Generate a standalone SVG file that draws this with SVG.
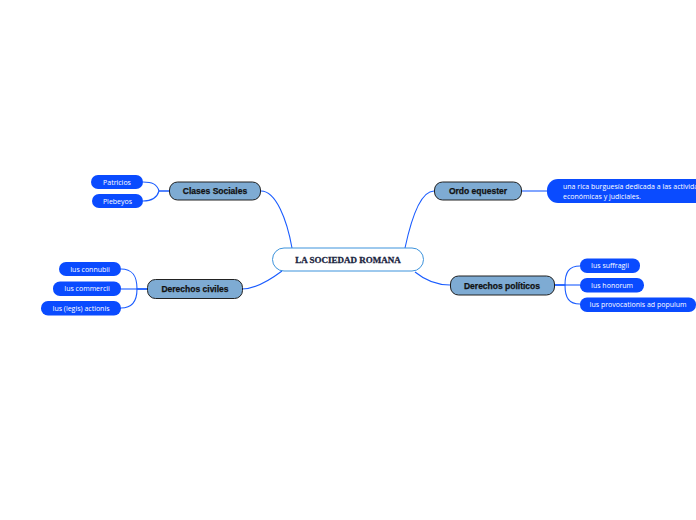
<svg xmlns="http://www.w3.org/2000/svg" width="696" height="520" viewBox="0 0 696 520">
<style>
.c{fill:none;stroke:#1a5cff;stroke-width:1.1}
.l1{fill:#7eabd3;stroke:#222;stroke-width:1}
.l1t{font-family:"Liberation Sans",Arial,sans-serif;font-weight:bold;font-size:8.5px;fill:#111;stroke:#111;stroke-width:0.25;text-anchor:middle}
.lf{fill:#0a4bff}
.lft{font-family:"Open Sans","Noto Sans",sans-serif;font-size:7px;fill:#fff;text-anchor:middle}
</style>
<rect width="696" height="520" fill="#fff"/>
<g id="connectors">
<path class="c" d="M261,191 C276,191 287,220 292,248"/>
<path class="c" d="M282,271 C270,280 256,289 242,289"/>
<path class="c" d="M405,248 C411,220 420,191 434,191"/>
<path class="c" d="M415,272 C426,281 438,285 450,285"/>
<path class="c" d="M169,191 H159 C157,184 152,182 143,182"/>
<path class="c" d="M169,191 H159 C157,198 152,201 143,201"/>
<path class="c" d="M147,289 H121"/>
<path class="c" d="M147,289 H137 C137,275 132,269 121,269"/>
<path class="c" d="M147,289 H137 C137,302 132,308 121,308"/>
<path class="c" d="M521,191 H547"/>
<path class="c" d="M554,285 H580"/>
<path class="c" d="M554,285 H565 C565,272 569,266 580,266"/>
<path class="c" d="M554,285 H565 C565,298 569,304 580,304"/>
</g>
<g id="central">
<rect x="272.5" y="248" width="151" height="23" rx="11.5" fill="#fff" stroke="#3d93dc" stroke-width="1"/>
<text x="348" y="263" font-family="Liberation Serif,serif" font-weight="bold" font-size="9" fill="#1a2440" stroke="#1a2440" stroke-width="0.3" text-anchor="middle">LA SOCIEDAD ROMANA</text>
</g>
<g id="clases">
<rect class="l1" x="169.5" y="182" width="91" height="18" rx="8"/>
<text class="l1t" x="215" y="194">Clases Sociales</text>
</g>
<g id="patricios">
<rect class="lf" x="91" y="175" width="52" height="14" rx="7"/>
<text class="lft" x="117" y="184.5">Patricios</text>
</g>
<g id="plebeyos">
<rect class="lf" x="92" y="194" width="51" height="14" rx="7"/>
<text class="lft" x="117.5" y="203.5">Plebeyos</text>
</g>
<g id="civiles">
<rect class="l1" x="147.5" y="279.5" width="95" height="19" rx="8"/>
<text class="l1t" x="195" y="292">Derechos civiles</text>
</g>
<g id="connubii">
<rect class="lf" x="59" y="262" width="62" height="14" rx="7"/>
<text class="lft" x="90" y="271.5">Ius connubii</text>
</g>
<g id="commercii">
<rect class="lf" x="53" y="281.5" width="68" height="14.5" rx="7"/>
<text class="lft" x="87" y="291.2">Ius commercii</text>
</g>
<g id="actionis">
<rect class="lf" x="41" y="301" width="80" height="14.5" rx="7"/>
<text class="lft" x="81" y="310.8">Ius (legis) actionis</text>
</g>
<g id="ordo">
<rect class="l1" x="434.5" y="182" width="87" height="18" rx="8"/>
<text class="l1t" x="478" y="194">Ordo equester</text>
</g>
<g id="burguesia">
<rect class="lf" x="547" y="179" width="170" height="24" rx="11"/>
<text font-family="Open Sans,Noto Sans,sans-serif" font-size="7" fill="#fff"><tspan x="563" y="189">una rica burguesía dedicada a las actividades</tspan><tspan x="563" y="199">económicas y judiciales.</tspan></text>
</g>
<g id="politicos">
<rect class="l1" x="450.5" y="276" width="104" height="19" rx="8"/>
<text class="l1t" x="502" y="288.5">Derechos políticos</text>
</g>
<g id="suffragii">
<rect class="lf" x="580" y="258.5" width="60" height="14.5" rx="7"/>
<text class="lft" x="610" y="268.2">Ius suffragii</text>
</g>
<g id="honorum">
<rect class="lf" x="580" y="278" width="64" height="14.5" rx="7"/>
<text class="lft" x="612" y="287.7">Ius honorum</text>
</g>
<g id="provocationis">
<rect class="lf" x="580" y="297.5" width="116" height="14.5" rx="7"/>
<text class="lft" x="638" y="307.2">Ius provocationis ad populum</text>
</g>
</svg>
